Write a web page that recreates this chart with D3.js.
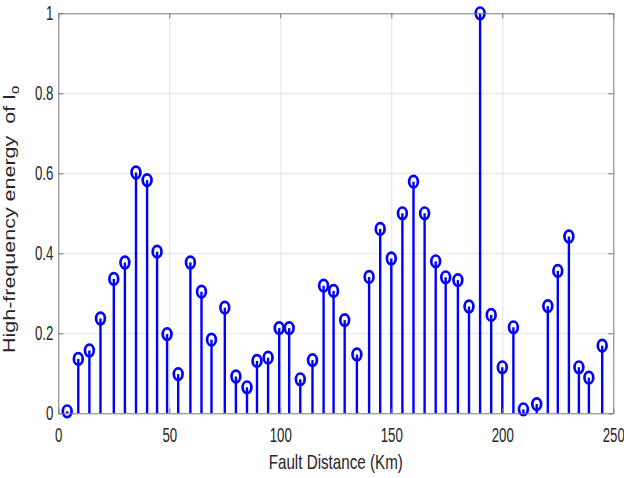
<!DOCTYPE html>
<html>
<head>
<meta charset="utf-8">
<script src="https://cdn.jsdelivr.net/npm/d3@7"></script>
<style>
  body { margin: 0; background: #fff; }
  svg { display: block; }
  text { font-family: "Liberation Sans", Arial, sans-serif; fill: #262626; }
</style>
</head>
<body>
<div class="d3-container"></div>
<script>
// fault distance (km) of each stem
const distances = [4, 9, 14, 19, 25, 30, 35, 40, 44.5, 49, 54, 59.5, 64.5, 69, 75,
  80, 85, 89.5, 94.5, 99.5, 104, 109, 114.5, 119.5, 124, 129, 134.5, 140, 145, 150,
  155, 160, 165, 170, 174.5, 180, 185, 190, 195, 200, 205, 209.5, 215.5, 220.5, 225,
  230, 234.5, 239, 245];

// normalised high-frequency energy
const energy = [0.005, 0.136, 0.157, 0.237, 0.336, 0.377, 0.602, 0.583, 0.404, 0.198,
  0.098, 0.377, 0.304, 0.184, 0.264, 0.092, 0.065, 0.131, 0.139, 0.213, 0.213, 0.085,
  0.133, 0.319, 0.306, 0.233, 0.147, 0.341, 0.461, 0.387, 0.5, 0.579, 0.5, 0.38, 0.34,
  0.333, 0.267, 1.0, 0.246, 0.115, 0.215, 0.01, 0.023, 0.268, 0.356, 0.442, 0.115,
  0.089, 0.169];

const xTicks = [0, 50, 100, 150, 200, 250];
const yTicks = [0, 0.2, 0.4, 0.6, 0.8, 1];

const width = 624;
const height = 478;
const margin = {top: 13.3, right: 10.7, bottom: 64.7, left: 58.3};
const sx = 0.68; // the picture is squeezed sideways

const data = distances.map((d, i) => ({x: d, y: energy[i]}));

const svg = d3.select(".d3-container")
  .append("svg")
  .attr("width", width)
  .attr("height", height);

const x = d3.scaleLinear()
  .domain([0, 250])
  .range([margin.left, width - margin.right]);

const y = d3.scaleLinear()
  .domain([0, 1])
  .range([height - margin.bottom, margin.top]);

// grid
svg.append("g")
  .attr("transform", `translate(0, ${height - margin.bottom})`)
  .call(d3.axisBottom(x).tickValues(xTicks.slice(1, -1)).tickSize(-(y(0) - y(1))).tickFormat(""))
  .call(g => g.select(".domain").remove())
  .call(g => g.selectAll("line").attr("stroke", "#e3e3e3"));

svg.append("g")
  .attr("transform", `translate(${margin.left}, 0)`)
  .call(d3.axisLeft(y).tickValues(yTicks.slice(1, -1)).tickSize(-(x(250) - x(0))).tickFormat(""))
  .call(g => g.select(".domain").remove())
  .call(g => g.selectAll("line").attr("stroke", "#e3e3e3"));

// stems
svg.append("g")
  .selectAll("line")
  .data(data)
  .join("line")
  .attr("x1", d => x(d.x))
  .attr("x2", d => x(d.x))
  .attr("y1", y(0))
  .attr("y2", d => y(d.y))
  .attr("stroke", "#0000ff")
  .attr("stroke-width", 2.4);

svg.append("g")
  .selectAll("ellipse")
  .data(data)
  .join("ellipse")
  .attr("cx", d => x(d.x))
  .attr("cy", d => y(d.y))
  .attr("rx", 4.4)
  .attr("ry", 5.8)
  .attr("fill", "none")
  .attr("stroke", "#0000ff")
  .attr("stroke-width", 2.7);

// box + ticks
const axisColor = "#7a7a7a";

function styleAxis(g) {
  g.selectAll("line").attr("stroke", axisColor);
  g.select(".domain").attr("stroke", axisColor);
  g.selectAll("text").style("font-size", "19.5px").attr("fill", "#262626");
}

svg.append("g")
  .attr("transform", `translate(0, ${y(0)})`)
  .call(d3.axisBottom(x).tickValues(xTicks).tickSizeInner(-5).tickSizeOuter(0).tickPadding(15))
  .call(styleAxis)
  .call(g => g.selectAll("text").attr("transform", `scale(${sx},1)`));

svg.append("g")
  .attr("transform", `translate(0, ${y(1)})`)
  .call(d3.axisTop(x).tickValues(xTicks).tickSizeInner(-5).tickSizeOuter(0).tickFormat(""))
  .call(styleAxis);

svg.append("g")
  .attr("transform", `translate(${x(0)}, 0)`)
  .call(d3.axisLeft(y).tickValues(yTicks).tickSizeInner(-5).tickSizeOuter(0).tickFormat(d3.format("")))
  .call(styleAxis)
  .call(g => g.selectAll("text").attr("x", -5 / sx).attr("transform", `scale(${sx},1)`));

svg.append("g")
  .attr("transform", `translate(${x(250)}, 0)`)
  .call(d3.axisRight(y).tickValues(yTicks).tickSizeInner(-5).tickSizeOuter(0).tickFormat(""))
  .call(styleAxis);

// labels
svg.append("text")
  .attr("transform", `translate(${(x(0) + x(250)) / 2}, 469) scale(0.76,1)`)
  .attr("text-anchor", "middle")
  .style("font-size", "20px")
  .text("Fault Distance (Km)");

const yl = svg.append("text")
  .attr("transform", `translate(15, ${(y(0) + y(1)) / 2 + 6}) scale(0.8,1) rotate(-90)`)
  .attr("text-anchor", "middle")
  .style("font-size", "21.5px");
yl.append("tspan").text("High-frequency energy\u00a0\u00a0of I");
yl.append("tspan").attr("dy", 5).style("font-size", "15px").text("o");
</script>
</body>
</html>
